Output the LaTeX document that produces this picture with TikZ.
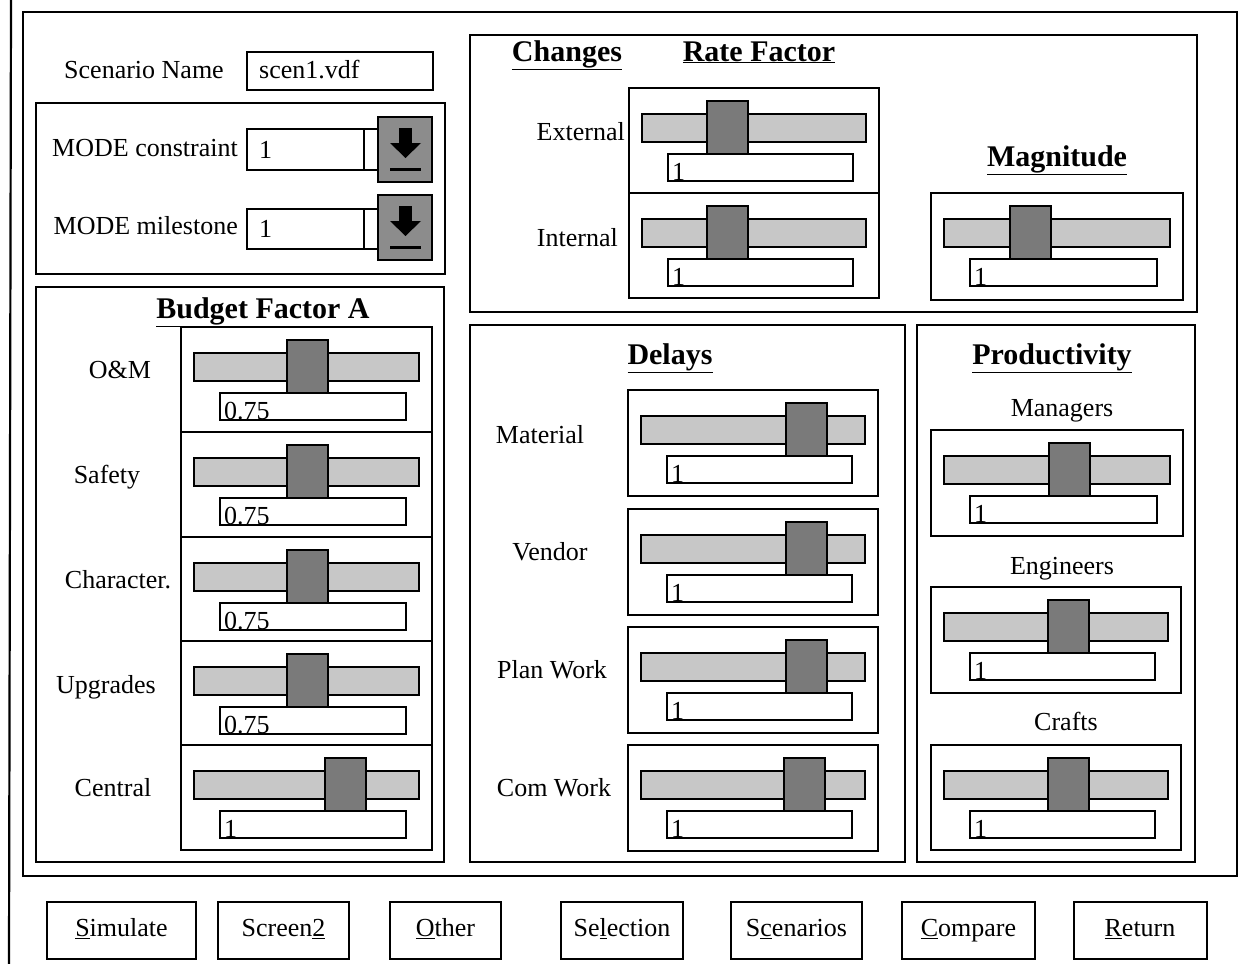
\documentclass[tikz,border=0pt]{standalone}
\usepackage{fontspec}
\setmainfont{Liberation Serif}
\begin{document}
\begin{tikzpicture}[x=1pt,y=-1pt,
  panel/.style={draw=black,line width=2.2pt},
  boxline/.style={draw=black,line width=2pt},
  trackst/.style={draw=black,line width=1.8pt,fill=black!22},
  knobst/.style={draw=black,line width=1.8pt,fill=black!52},
  fieldst/.style={draw=black,line width=1.8pt,fill=white},
  valtext/.style={anchor=base west,inner sep=0pt,font=\fontsize{26}{28}\selectfont},
  lbl/.style={inner sep=0pt,font=\fontsize{26}{30}\selectfont,text height=18pt,text depth=5pt,yshift=-2pt},
  ttl/.style={inner sep=0pt,font=\fontsize{30}{33}\selectfont\bfseries,text height=20pt,text depth=6pt,yshift=-2pt},
  btn/.style={draw=black,line width=2pt,minimum height=57pt,inner sep=0pt,font=\fontsize{26}{30}\selectfont,text height=18pt,text depth=5pt},
  ddbtn/.style={draw=black,line width=2pt,fill=black!45}]
\useasboundingbox (0,0) rectangle (1256,964);
\newcommand\uislider[7]{%
  \draw[boxline] (#1,#2) rectangle (#3,#4);
  \draw[trackst] (#1+13,#2+26) rectangle (#3-13,#2+54);
  \draw[knobst] (#5,#2+13) rectangle (#5+41,#2+66);
  \draw[fieldst] (#1+39,#2+66) rectangle (#3-26,#2+93);
  \node[valtext] (#7) at (#1+43,#2+92) {#6};
}
\newcommand\uiddbutton[2]{% #1 top y, #2 name
  \draw[ddbtn] (378,#1) rectangle (432,#1+65);
  \fill[black] (399,#1+11) rectangle (412,#1+27);
  \fill[black] (390,#1+26) -- (421,#1+26) -- (405.5,#1+41) -- cycle;
  \draw[black,line width=3pt] (390,#1+52) -- (421,#1+52);
  \coordinate (#2) at (405,#1+32);
}
% outer window edge
\draw[line width=2.2pt] (11,0) -- (9,964);
% main panel
\draw[panel] (23,12) rectangle (1237,876);
% scenario name
\node[lbl] (scnlbl) at (144,70) {Scenario Name};
\draw[boxline] (247,52) rectangle (433,90);
\node[lbl,anchor=west] (scnval) at (259,70) {scen1.vdf};
% MODE panel
\draw[panel] (36,103) rectangle (445,274);
\node[lbl,anchor=east] (mc) at (238,148) {MODE constraint};
\draw[boxline] (247,129) rectangle (378,170);
\draw[line width=2pt] (364,129) -- (364,170);
\node[lbl,anchor=west] (mcv) at (259,150) {1};
\uiddbutton{117}{mcb}
\node[lbl,anchor=east] (mm) at (238,226) {MODE milestone};
\draw[boxline] (247,209) rectangle (378,249);
\draw[line width=2pt] (364,209) -- (364,249);
\node[lbl,anchor=west] (mmv) at (259,229) {1};
\uiddbutton{195}{mmb}
% Budget Factor A
\draw[panel] (36,287) rectangle (444,862);
\node[ttl] (bfa) at (263,309) {\underline{Budget Factor A}};
\node[lbl] (l1) at (120,370) {O\&M};
\node[lbl] (l2) at (107,475) {Safety};
\node[lbl] (l3) at (118,580) {Character.};
\node[lbl] (l4) at (106,685) {Upgrades};
\node[lbl] (l5) at (113,788) {Central};
\uislider{181}{327}{432}{432}{287}{0.75}{v1}
\uislider{181}{432}{432}{537}{287}{0.75}{v2}
\uislider{181}{537}{432}{641}{287}{0.75}{v3}
\uislider{181}{641}{432}{745}{287}{0.75}{v4}
\uislider{181}{745}{432}{850}{325}{1}{v5}
% Changes
\draw[panel] (470,35) rectangle (1197,312);
\node[ttl] (chg) at (567,52) {\underline{Changes}};
\node[ttl] (rf) at (759,52) {\underline{Rate Factor}};
\node[lbl,anchor=east] (ext) at (625,132) {External};
\node[lbl,anchor=east] (int) at (618,238) {Internal};
\uislider{629}{88}{879}{193}{707}{1}{v6}
\uislider{629}{193}{879}{298}{707}{1}{v7}
\node[ttl] (mag) at (1057,157) {\underline{Magnitude}};
\uislider{931}{193}{1183}{300}{1010}{1}{v8}
% Delays
\draw[panel] (470,325) rectangle (905,862);
\node[ttl] (dly) at (670,355) {\underline{Delays}};
\node[lbl] (d1) at (540,435) {Material};
\node[lbl] (d2) at (550,552) {Vendor};
\node[lbl] (d3) at (552,670) {Plan Work};
\node[lbl] (d4) at (554,788) {Com Work};
\uislider{628}{390}{878}{496}{786}{1}{v9}
\uislider{628}{509}{878}{615}{786}{1}{v10}
\uislider{628}{627}{878}{733}{786}{1}{v11}
\uislider{628}{745}{878}{851}{784}{1}{v12}
% Productivity
\draw[panel] (917,325) rectangle (1195,862);
\node[ttl] (prd) at (1052,355) {\underline{Productivity}};
\node[lbl] (p1) at (1062,408) {Managers};
\node[lbl] (p2) at (1062,566) {Engineers};
\node[lbl] (p3) at (1066,722) {Crafts};
\uislider{931}{430}{1183}{536}{1049}{1}{v13}
\uislider{931}{587}{1181}{693}{1048}{1}{v14}
\uislider{931}{745}{1181}{850}{1048}{1}{v15}
% Buttons
\node[btn,minimum width=149pt] (b1) at (121.5,930) {\underline{S}imulate};
\node[btn,minimum width=131pt] (b2) at (283.5,930) {Screen\underline{2}};
\node[btn,minimum width=111pt] (b3) at (445.5,930) {\underline{O}ther};
\node[btn,minimum width=122pt] (b4) at (622,930) {Se\underline{l}ection};
\node[btn,minimum width=131pt] (b5) at (796.5,930) {S\underline{c}enarios};
\node[btn,minimum width=133pt] (b6) at (968.5,930) {\underline{C}ompare};
\node[btn,minimum width=133pt] (b7) at (1140,930) {\underline{R}eturn};
\end{tikzpicture}
\end{document}
